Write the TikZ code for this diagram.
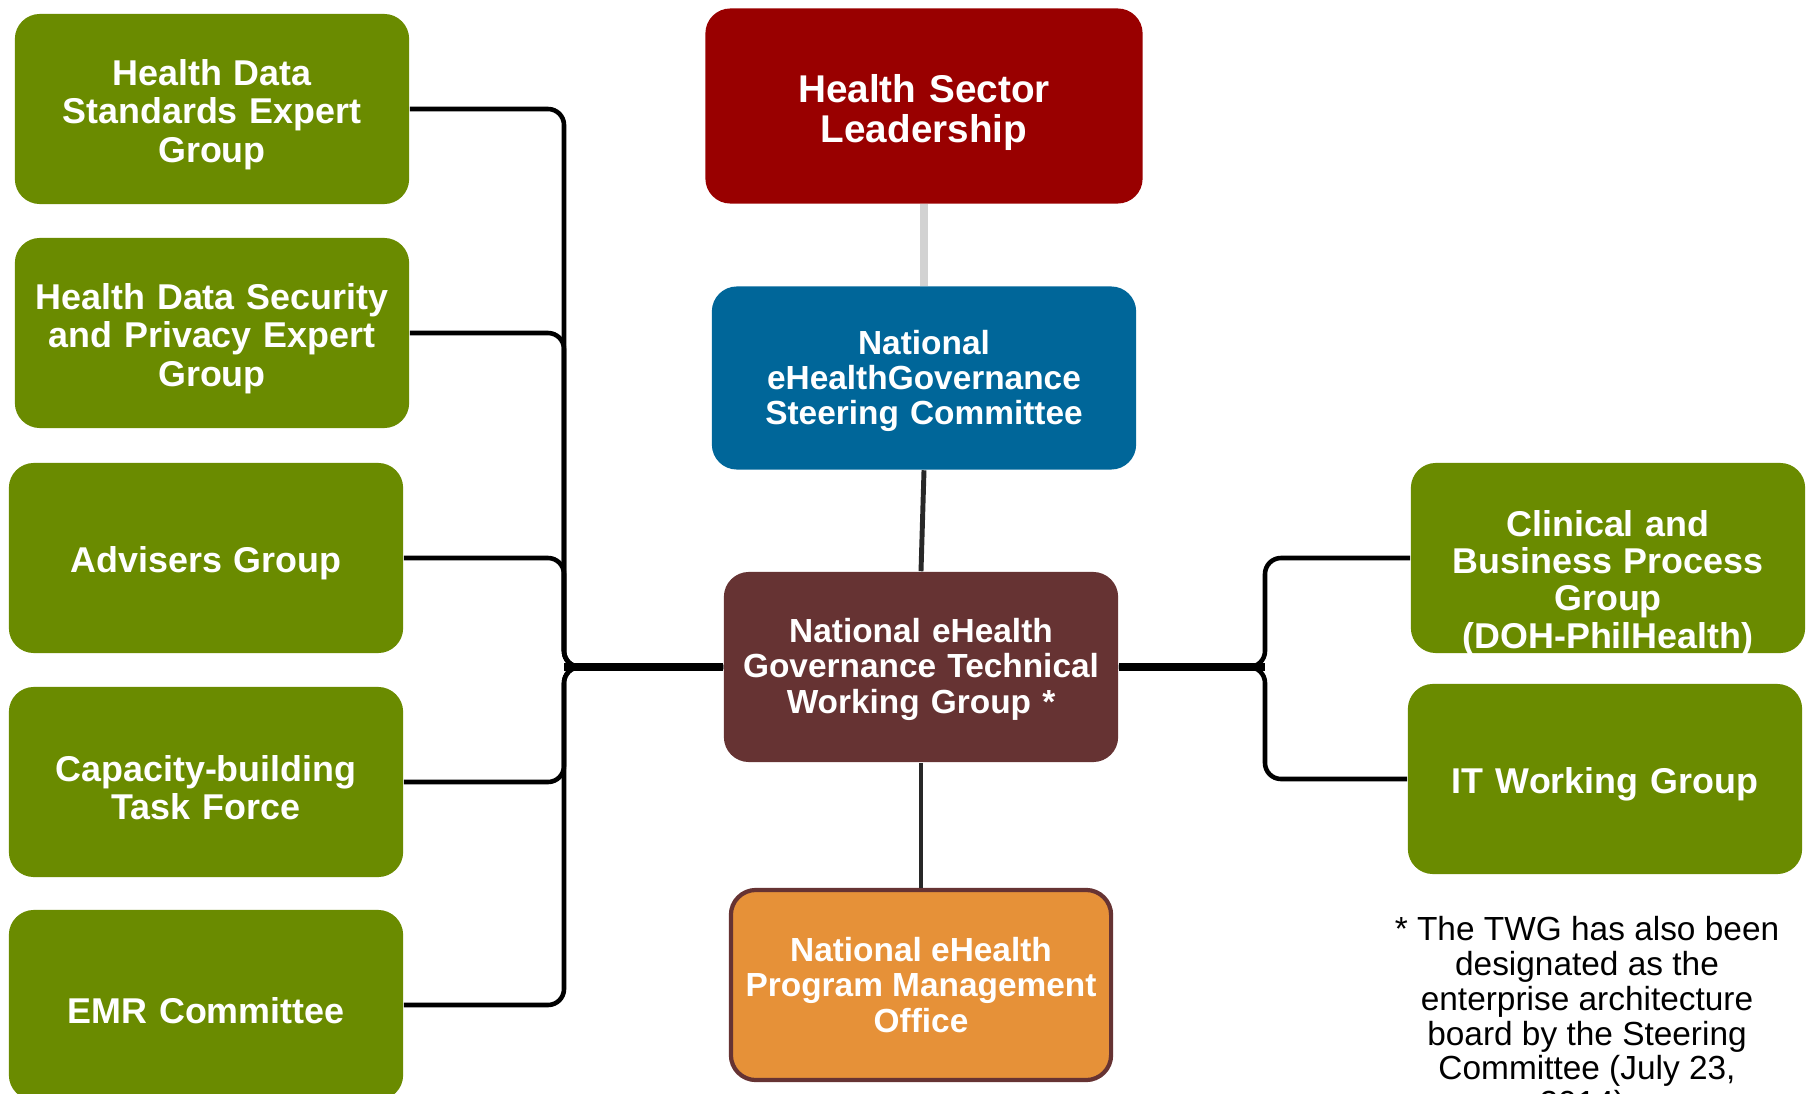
\documentclass[tikz,border=0pt]{standalone}
\usepackage{fontspec}
\setmainfont{Liberation Sans}
\usetikzlibrary{positioning}
\definecolor{leadred}{RGB}{153, 0, 0}
\definecolor{steerblue}{RGB}{0, 102, 153}
\definecolor{twgbrown}{RGB}{102, 51, 51}
\definecolor{pmoorange}{RGB}{230, 145, 56}
\definecolor{groupgreen}{RGB}{106, 139, 0}
\definecolor{linkgray}{RGB}{210, 210, 210}
\definecolor{linkdark}{RGB}{40, 40, 40}

\tikzset{
  box/.style={rounded corners=0.25cm, align=center, text=white, inner sep=2pt,
              font=\bfseries\fontsize{9.5}{10}\selectfont},
  textdrop/.style={execute at begin node={\rule{0pt}{#1}}},
  grouptext/.style={align=center, text=white, inner sep=2pt, text width=3.8cm,
                    font=\bfseries\fontsize{10.2}{10.9}\selectfont},
  groupbox/.style={box, grouptext, fill=groupgreen, minimum width=3.94cm, minimum height=1.9cm,
                   rounded corners=0.25cm, textdrop=10.6pt},
  branch/.style={draw=black, line width=1.3pt, rounded corners=0.16cm},
  trunk/.style={draw=black, line width=2pt},
}

\begin{document}
\begin{tikzpicture}[x=0.01cm, y=-0.01cm]
    \useasboundingbox (0,0) rectangle (1806,1094);

    % centre column
    \node[box, fill=leadred, minimum width=4.37cm, minimum height=1.95cm, text width=4.2cm,
          font=\bfseries\fontsize{11}{11.2}\selectfont, textdrop=11.6pt] (hsl) at (924,106)
          {Health Sector\\Leadership};
    \node[box, fill=steerblue, minimum width=4.23cm, minimum height=1.83cm, text width=4.1cm,
          textdrop=8.6pt] (nsc) at (924,378)
          {National\\eHealthGovernance\\Steering Committee};
    \node[box, fill=twgbrown, minimum width=3.94cm, minimum height=1.9cm, text width=3.8cm,
          textdrop=8.2pt] (twg) at (921,667)
          {National eHealth\\Governance Technical\\Working Group *};
    \node[box, fill=pmoorange, draw=twgbrown, line width=1.2pt,
          minimum width=3.8cm, minimum height=1.9cm] (pmo) at (921,985)
          {National eHealth\\Program Management\\Office};

    % left groups
    \node[groupbox] (hds) at (212,109) {Health Data\\Standards Expert\\Group};
    \node[groupbox] (hdsp) at (212,333) {Health Data Security\\and Privacy Expert\\Group};
    \node[groupbox] (adv) at (206,558) {Advisers Group};
    \node[groupbox] (cap) at (206,782) {Capacity-building\\Task Force};
    \node[groupbox] (emr) at (206,1005) {EMR Committee};

    % right groups (the clinical text runs past the bottom of its box)
    \node[groupbox] (cbp) at (1608,558) {};
    \node[grouptext, font=\bfseries\fontsize{10.2}{10.6}\selectfont] (cbptext) at (1608,583)
          {Clinical and\\Business Process\\Group\\(DOH-PhilHealth)};
    \node[groupbox] (itw) at (1605,779) {IT Working Group};

    % footnote
    \node[anchor=north, align=center, font=\fontsize{9.5}{9.9}\selectfont] (note) at (1587,904)
          {* The TWG has also been\\designated as the\\enterprise architecture\\board by the Steering\\Committee (July 23,\\2014).};

    \coordinate (lbus) at (564,667);
    \coordinate (rbus) at (1265,667);

    % links
    \draw[linkgray, line width=2.2pt] (hsl.south) -- (nsc.north);
    \draw[linkdark, line width=1.4pt] (nsc.south) -- (twg.north);
    \draw[linkdark, line width=1.4pt] (twg.south) -- (pmo.north);

    \foreach \grp in {hds, hdsp, adv, cap, emr}
      \draw[branch] (\grp.east) -| (lbus) -- (twg.west);
    \draw[trunk] (lbus) -- (twg.west);

    \foreach \grp in {cbp, itw}
      \draw[branch] (twg.east) -- (rbus) |- (\grp.west);
    \draw[trunk] (twg.east) -- (rbus);
\end{tikzpicture}
\end{document}
